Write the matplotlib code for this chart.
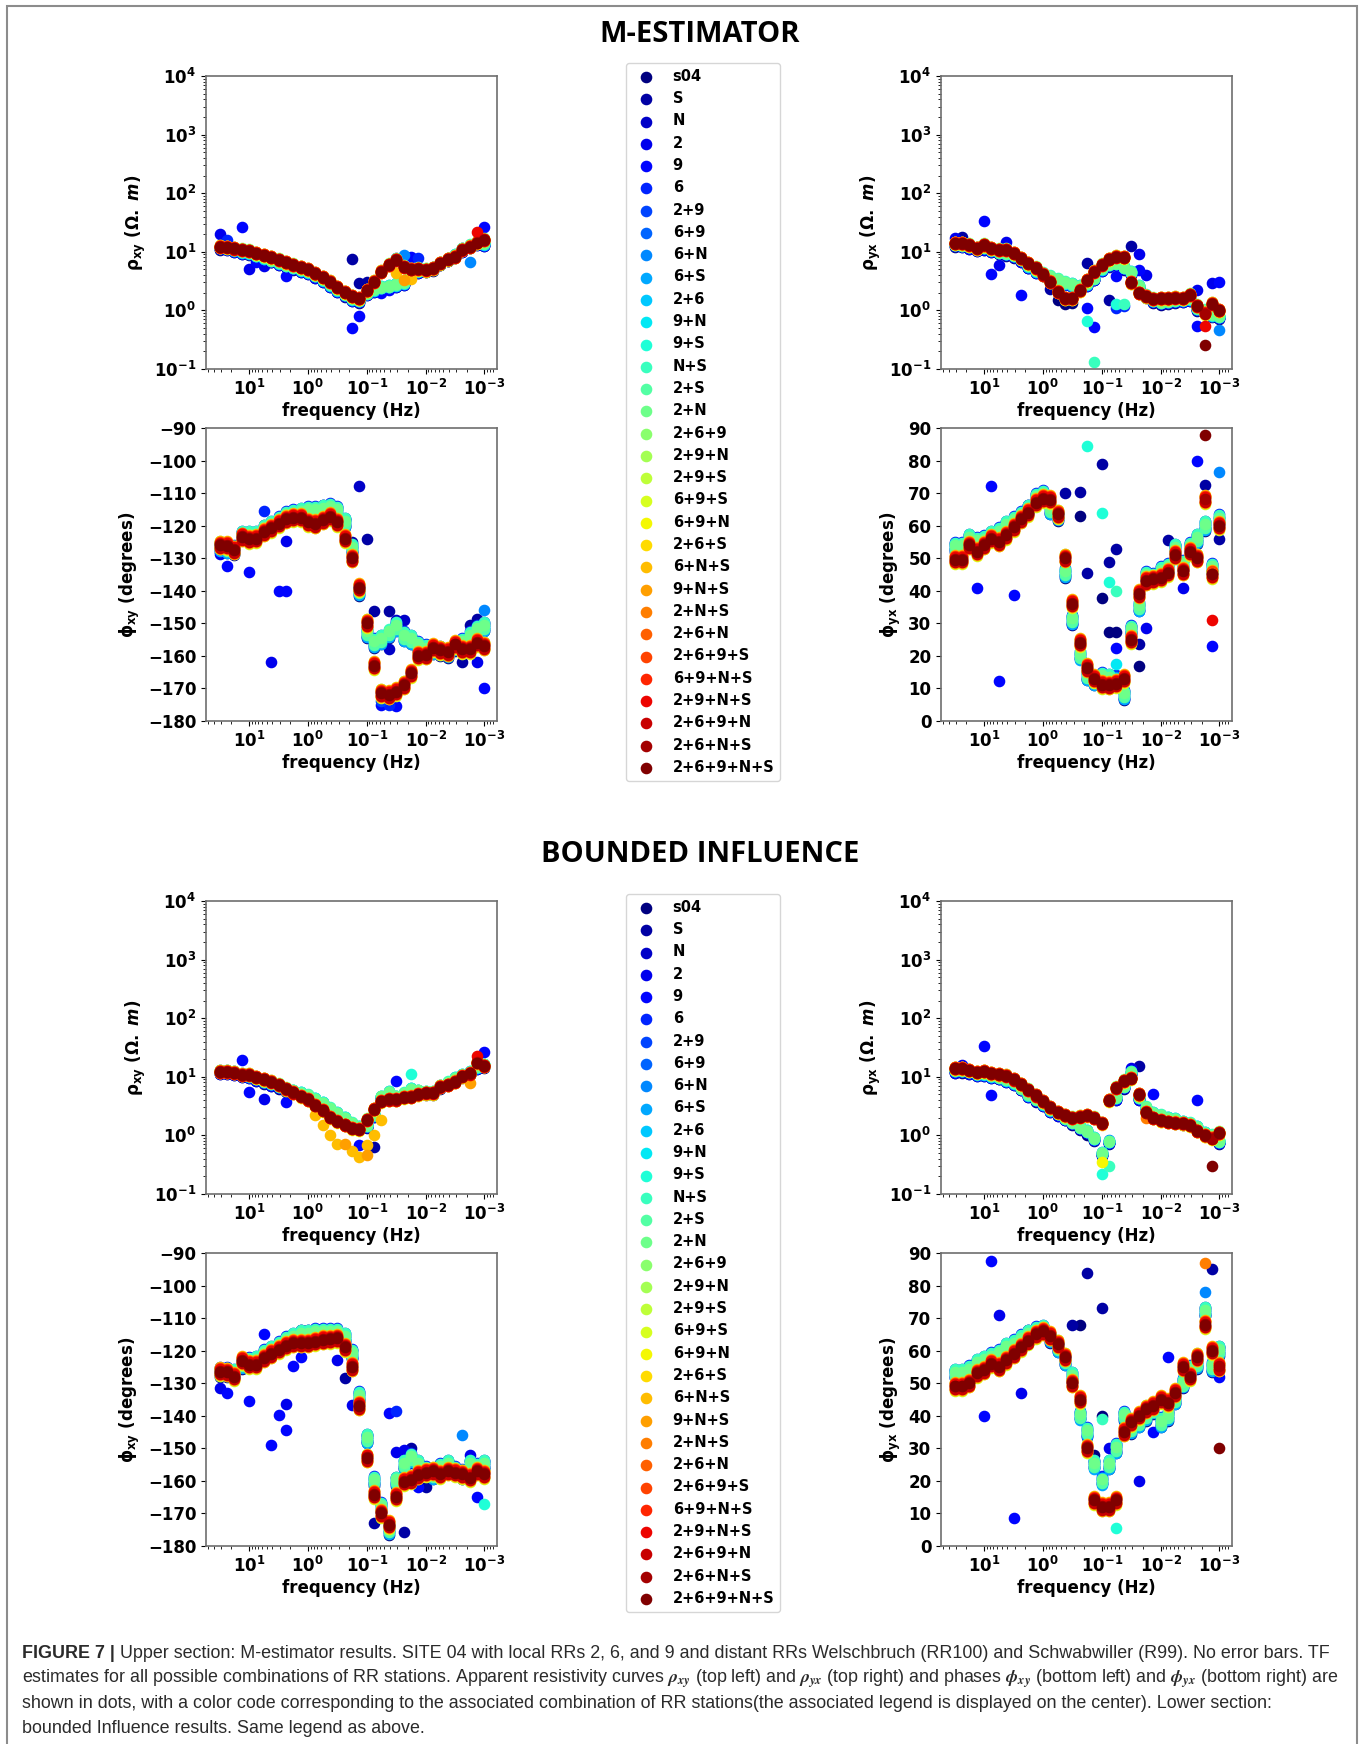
import matplotlib
matplotlib.use("Agg")
import matplotlib.pyplot as plt
from matplotlib.patches import Rectangle
import numpy as np

W, H = 1363, 1744

# frequencies (Hz), 8 per decade from ~32 Hz down to 1 mHz
freqs = [31.6, 23.7, 17.8, 13.3, 10.0, 7.50, 5.62, 4.22, 3.16, 2.37, 1.78, 1.33, 1.00,
         0.750, 0.562, 0.422, 0.316, 0.237, 0.178, 0.133, 0.100, 0.075, 0.0562, 0.0422,
         0.0316, 0.0237, 0.0178, 0.0133, 0.0100, 0.0075, 0.00562, 0.00422, 0.00316,
         0.00237, 0.00178, 0.00133, 0.00100]

labels = ['s04', 'S', 'N', '2', '9', '6', '2+9', '6+9', '6+N', '6+S', '2+6', '9+N', '9+S',
          'N+S', '2+S', '2+N', '2+6+9', '2+9+N', '2+9+S', '6+9+S', '6+9+N', '2+6+S', '6+N+S',
          '9+N+S', '2+N+S', '2+6+N', '2+6+9+S', '6+9+N+S', '2+9+N+S', '2+6+9+N', '2+6+N+S',
          '2+6+9+N+S']

# small level differences between the RR combinations
rho_gain = [0.90, 0.93, 0.95, 0.91, 0.97, 0.94, 1.00, 0.96, 1.03, 0.98, 0.95, 1.02, 0.99, 1.04, 0.97, 1.01,
            1.06, 0.96, 1.04, 0.98, 0.94, 1.03, 0.95, 1.05, 0.97, 1.02, 0.99, 1.04, 0.96, 1.02, 0.98, 1.00]
phi_shift = [-1.5, 1.2, -0.8, 0.6, -1.1, 1.5, 0.0, -0.6, 1.0, -1.3, 0.8, 0.3, -0.3, 1.3, -0.7, 0.5,
             1.2, -0.9, 0.7, -1.3, 1.0, -0.5, 1.4, -1.1, 0.4, -0.7, 1.1, -0.3, 0.8, -0.8, 0.3, 0.0]

# ---------------- M-estimator ----------------
m_rxy_warm = [12.3, 12.0, 11.4, 10.8, 10.4, 9.5, 8.8, 8.1, 7.3, 6.6, 6.0, 5.5, 5.0, 4.3, 3.7, 3.1, 2.5,
              2.05, 1.75, 1.6, 2.2, 3.1, 4.6, 6.0, 7.3, 5.6, 5.0, 5.1, 4.9, 5.2, 6.4, 7.5, 8.3, 10.8,
              12.3, 14.4, 16.0]
m_rxy_cool = [12.0, 11.8, 11.0, 10.2, 9.8, 8.8, 8.0, 7.3, 6.6, 6.0, 5.5, 5.0, 4.6, 4.0, 3.4, 2.8, 2.3,
              1.9, 1.6, 1.5, 2.0, 2.3, 2.5, 2.6, 2.8, 3.0, 4.2, 4.8, 5.0, 5.3, 6.5, 7.6, 8.8, 11.0,
              13.0, 14.5, 14.0]
m_rxy_out = [(3, 0, 20), (5, 1, 16), (4, 3, 27), (3, 4, 5.1), (4, 5, 6.8), (3, 6, 5.8), (4, 9, 3.9),
             (1, 18, 7.5), (4, 18, 0.5), (4, 19, 0.8), (1, 19, 2.9), (1, 20, 3.1), (4, 22, 2.0),
             (4, 23, 2.2), (4, 24, 7.8), (8, 25, 8.9), (4, 26, 8.3), (5, 27, 7.8), (1, 33, 11.6),
             (8, 34, 6.7), (4, 36, 26), (28, 35, 22), (22, 24, 4.4), (23, 25, 3.3), (22, 26, 3.4)]

m_ryx_warm = [14.1, 14.0, 13.1, 11.5, 13.1, 11.5, 10.8, 10.8, 9.5, 7.8, 6.4, 5.3, 4.1, 3.1, 2.1, 1.6,
              1.6, 2.2, 3.3, 4.6, 6.0, 7.5, 8.3, 8.1, 3.0, 2.0, 1.75, 1.57, 1.6, 1.6, 1.65, 1.6, 1.85,
              1.2, 0.9, 1.3, 1.0]
m_ryx_cool = [13.5, 13.2, 12.5, 11.5, 12.0, 11.0, 10.0, 9.5, 8.8, 7.5, 5.8, 4.8, 4.3, 3.8, 3.4, 3.0,
              2.8, 2.6, 2.9, 3.6, 5.2, 6.2, 6.5, 5.5, 4.5, 2.6, 1.8, 1.5, 1.4, 1.45, 1.5, 1.55, 1.6,
              1.1, 1.0, 0.85, 0.8]
m_ryx_out = [(3, 0, 17), (1, 1, 18), (4, 4, 33), (4, 5, 4.2), (3, 6, 5.9), (4, 9, 1.8), (3, 7, 14.5),
             (0, 14, 1.5), (0, 15, 1.3), (0, 16, 1.35), (1, 13, 2.3), (1, 18, 6.4), (4, 18, 1.1),
             (12, 18, 0.65), (4, 19, 0.52), (13, 19, 0.13), (1, 24, 12.6), (3, 25, 9.2), (4, 25, 4.9),
             (3, 26, 4.0), (4, 22, 3.8), (1, 21, 1.5), (5, 22, 1.1), (5, 23, 1.2), (12, 22, 1.3),
             (13, 23, 1.3), (3, 33, 2.2), (3, 35, 2.9), (4, 36, 3.1), (4, 33, 0.54), (31, 34, 0.26),
             (28, 34, 0.55), (8, 36, 0.47)]

m_pxy_warm = [-126, -126.2, -127.5, -123.5, -124.2, -124, -122, -120.8, -119.4, -118, -117.6, -117.5,
              -119, -119.5, -118.3, -117.2, -119, -124, -130, -139, -150, -163, -171.5, -172, -171,
              -169, -165.4, -160, -159.8, -157.5, -158.3, -158.8, -156.5, -158, -158, -156, -157]
m_pxy_cool = [-126.5, -127, -127.5, -123, -123, -123, -121, -120, -118.5, -117, -116.5, -116, -115.5,
              -115.5, -115, -114.5, -115.5, -119, -127, -140, -153, -156, -155, -153, -151, -154,
              -155, -157, -158, -158, -158.5, -159, -157, -156, -154, -152, -151]
m_pxy_out = [(3, 0, -128.7), (4, 1, -132.3), (4, 4, -134.3), (5, 6, -115.5), (4, 8, -140.2),
             (4, 9, -140.2), (3, 7, -161.9), (3, 9, -124.7), (2, 19, -107.8), (1, 18, -125),
             (1, 20, -124), (1, 21, -146.3), (1, 23, -146.3), (2, 24, -149), (2, 25, -149),
             (2, 23, -158), (3, 26, -165.4), (1, 33, -161.9), (1, 34, -150.5), (1, 35, -148.6),
             (4, 36, -170), (8, 36, -146), (3, 35, -162), (4, 22, -175), (5, 23, -175),
             (4, 24, -175.5), (6, 22, -174)]

m_pyx_warm = [49.5, 49.5, 54, 52, 54, 56, 55, 57, 59.5, 62, 64, 67, 68.3, 68, 63.5, 50, 36, 24, 16.3,
              13, 11.2, 11, 11.5, 13, 25, 39, 43, 43.5, 44, 45.5, 51, 46, 52, 50, 68, 45, 60]
m_pyx_cool = [53.5, 53.5, 56, 55, 55.5, 57, 58, 60, 61.5, 63, 65, 68.5, 69.5, 65, 63, 45.5, 31, 20,
              14, 12.5, 13.5, 13, 12.5, 8, 28, 35, 44.5, 44, 46, 47, 53, 48, 53.5, 56, 60, 47, 62]
m_pyx_out = [(4, 5, 72.2), (4, 3, 40.8), (4, 6, 12.2), (4, 8, 38.8), (12, 18, 84.6), (1, 20, 79),
             (1, 15, 70.1), (1, 17, 70.3), (12, 20, 64), (0, 17, 63), (1, 18, 45.4), (0, 20, 37.7),
             (1, 21, 48.7), (1, 22, 52.8), (12, 21, 42.6), (13, 22, 40), (0, 21, 27.3), (0, 22, 27.3),
             (4, 22, 22.4), (11, 22, 17.6), (3, 26, 28.5), (1, 25, 23.7), (0, 25, 17), (1, 29, 55.5),
             (3, 31, 40.8), (4, 33, 80), (4, 35, 23), (28, 35, 30.9), (31, 34, 87.7), (8, 36, 76.5),
             (1, 34, 72.6), (1, 36, 55.8)]

# ---------------- Bounded influence ----------------
b_rxy_warm = [12.3, 12.3, 11.8, 10.9, 10.9, 9.9, 9.1, 8.3, 7.3, 6.2, 5.4, 4.7, 4.1, 3.3, 2.7, 2.05,
              1.73, 1.52, 1.33, 1.28, 1.85, 2.8, 3.8, 4.1, 4.1, 4.5, 4.6, 5.0, 5.3, 5.3, 6.8, 7.3, 8.3,
              10.3, 11.4, 17.5, 15.4]
b_rxy_cool = [12.5, 12.5, 12.0, 11.0, 10.5, 9.5, 8.5, 7.8, 7.0, 6.2, 5.8, 5.3, 4.8, 4.2, 3.6, 2.9,
              2.4, 2.0, 1.6, 1.4, 1.5, 2.3, 4.6, 5.5, 4.6, 5.2, 6.2, 5.8, 5.5, 5.5, 7.0, 8.0, 9.5,
              10.8, 12.0, 15.0, 16.0]
b_rxy_out = [(22, 13, 2.25), (22, 14, 1.52), (22, 15, 1.02), (22, 16, 0.71), (23, 17, 0.71),
             (22, 18, 0.54), (22, 19, 0.43), (23, 20, 0.47), (22, 20, 0.69), (22, 21, 1.0),
             (22, 22, 1.8), (4, 19, 0.69), (1, 21, 0.63), (4, 3, 19), (4, 4, 5.6), (3, 6, 4.2),
             (4, 9, 3.65), (4, 24, 8.6), (12, 26, 11.1), (4, 36, 26.3), (23, 34, 7.8), (28, 35, 23)]

b_ryx_warm = [14, 14, 13, 12, 12.5, 11.5, 11, 10.5, 9, 7.5, 6, 4.8, 3.8, 3.0, 2.5, 2.2, 2.0, 2.1, 2.2,
              2.0, 1.6, 4.0, 6.5, 8.5, 9.5, 5.0, 2.5, 2.0, 1.8, 1.7, 1.65, 1.6, 1.5, 1.2, 1.0, 0.9, 1.1]
b_ryx_cool = [13, 13, 12.5, 11.5, 11.5, 10.5, 10, 9, 8, 6.5, 5, 4.2, 3.5, 2.8, 2.4, 2.0, 1.7, 1.4,
              1.2, 0.9, 0.5, 0.8, 4.5, 7, 12, 4.5, 3, 2.4, 2.2, 2.0, 1.9, 1.7, 1.6, 1.4, 1.1, 1.0, 0.8]
b_ryx_out = [(4, 4, 34), (4, 5, 4.8), (3, 1, 16), (12, 20, 0.22), (13, 21, 0.3), (20, 20, 0.35),
             (1, 25, 15), (4, 27, 5), (24, 26, 2), (31, 35, 0.3), (4, 33, 4), (0, 18, 1.0),
             (1, 19, 0.9), (3, 24, 14)]

b_pxy_warm = [-126.4, -126.6, -128, -123.1, -124.3, -124.3, -122.3, -121, -119.7, -118.5, -117.7,
              -117.7, -117.7, -117.2, -116.7, -116.5, -116.2, -119, -125, -137, -153, -164.3, -170,
              -173.5, -164.8, -160.2, -159.7, -158.2, -157.5, -157, -158, -157, -157.5, -158, -159,
              -157, -158]
b_pxy_cool = [-126.5, -126.5, -127, -124, -123.5, -123, -121, -120, -118.5, -117, -116, -115, -115,
              -114.5, -114.5, -114.5, -114.5, -116, -121, -134, -147, -160, -168, -175, -160, -155,
              -153, -155, -157, -158, -156, -155, -157, -158, -155, -156, -155]
b_pxy_out = [(3, 0, -131.5), (4, 1, -133), (4, 4, -135.6), (4, 6, -114.9), (4, 7, -148.9),
             (4, 8, -139.7), (4, 9, -144.3), (3, 9, -136.3), (4, 10, -124.7), (4, 11, -122),
             (3, 16, -122.8), (1, 17, -128.4), (3, 18, -136.6), (4, 23, -139.2), (5, 24, -138.4),
             (1, 21, -173), (1, 25, -175.6), (3, 24, -151), (3, 25, -150.5), (4, 27, -161.8),
             (8, 33, -146), (4, 35, -165), (12, 36, -167), (3, 34, -152), (1, 26, -150),
             (1, 28, -162)]

b_pyx_warm = [49, 49, 50, 53, 54, 56, 55, 57, 59, 61, 63, 65, 66, 64.5, 62, 58, 50, 45, 30, 14, 12, 12,
              14, 35, 38, 40, 42, 43, 45, 44, 47, 55, 52, 58, 68, 60, 55]
b_pyx_cool = [53, 53, 54, 56, 57, 58, 59, 61, 62, 63.5, 65, 66, 66.5, 64, 61, 57, 52, 40, 35, 25, 20,
              25, 30, 40, 36, 38, 40, 42, 38, 40, 45, 50, 54, 56, 72, 55, 60]
b_pyx_out = [(4, 4, 40), (4, 5, 87.5), (3, 6, 71), (4, 8, 8.5), (3, 9, 47), (1, 18, 84), (1, 20, 73),
             (0, 17, 68), (1, 16, 68), (0, 19, 28), (0, 20, 40), (3, 21, 30), (13, 20, 39),
             (12, 22, 5.5), (3, 25, 20), (4, 27, 35), (4, 29, 58), (8, 34, 78), (4, 36, 52),
             (31, 36, 30), (1, 35, 85), (24, 34, 87)]

plt.rcParams['font.family'] = 'DejaVu Sans'
plt.rcParams['font.weight'] = 'bold'
plt.rcParams['axes.labelweight'] = 'bold'
plt.rcParams['mathtext.fontset'] = 'custom'
plt.rcParams['mathtext.rm'] = 'DejaVu Sans:bold'
plt.rcParams['mathtext.bf'] = 'DejaVu Sans:bold'
plt.rcParams['mathtext.sf'] = 'DejaVu Sans:bold'
plt.rcParams['mathtext.it'] = 'DejaVu Sans:italic:bold'
plt.rcParams['mathtext.default'] = 'rm'

colors = plt.cm.jet(np.linspace(0, 1, len(labels)))

fig = plt.figure(figsize=(W / 100, H / 100), dpi=100)


def panel(rect, warm, cool, extra, kind):
    ax = fig.add_axes(rect)
    for k in range(len(labels)):
        base = cool if k < 16 else warm
        if kind == 'rho':
            vals = [v * rho_gain[k] for v in base]
        else:
            vals = [v + phi_shift[k] for v in base]
        for s, i, v in extra:
            if s == k:
                vals[i] = v
        ax.scatter(freqs, vals, s=54, color=colors[k], label=labels[k])
    ax.set_xscale('log')
    ax.set_xlim(54, 6.1e-4)
    ax.set_xticks([1e1, 1e0, 1e-1, 1e-2, 1e-3])
    if kind == 'rho':
        ax.set_yscale('log')
        ax.set_ylim(0.1, 1e4)
        ax.set_yticks([1e-1, 1e0, 1e1, 1e2, 1e3, 1e4])
    ax.set_xlabel('frequency (Hz)', fontsize=12, fontweight='bold', labelpad=2)
    ax.tick_params(labelsize=12)
    for sp in ax.spines.values():
        sp.set_color('#6e6e6e')
        sp.set_linewidth(1.2)
    return ax


lx, rx, aw, ah = 206 / W, 941 / W, 291 / W, 293 / H
sections = [
    (76, 428, m_rxy_warm, m_rxy_cool, m_rxy_out, m_ryx_warm, m_ryx_cool, m_ryx_out,
     m_pxy_warm, m_pxy_cool, m_pxy_out, m_pyx_warm, m_pyx_cool, m_pyx_out),
    (901, 1253, b_rxy_warm, b_rxy_cool, b_rxy_out, b_ryx_warm, b_ryx_cool, b_ryx_out,
     b_pxy_warm, b_pxy_cool, b_pxy_out, b_pyx_warm, b_pyx_cool, b_pyx_out),
]
first_ax = None
for sec in sections:
    top1, top2 = sec[0], sec[1]
    a = panel([lx, 1 - (top1 + 293) / H, aw, ah], sec[2], sec[3], sec[4], 'rho')
    a.set_ylabel(r'$\rho_{xy}\ (\Omega.\ \mathit{m})$', fontsize=12)
    if first_ax is None:
        first_ax = a
    b = panel([rx, 1 - (top1 + 293) / H, aw, ah], sec[5], sec[6], sec[7], 'rho')
    b.set_ylabel(r'$\rho_{yx}\ (\Omega.\ \mathit{m})$', fontsize=12)
    c = panel([lx, 1 - (top2 + 293) / H, aw, ah], sec[8], sec[9], sec[10], 'phi')
    c.set_ylim(-180, -90)
    c.set_yticks(np.arange(-180, -89, 10))
    c.set_ylabel(r'$\phi_{xy}$ (degrees)', fontsize=12)
    d = panel([rx, 1 - (top2 + 293) / H, aw, ah], sec[11], sec[12], sec[13], 'phi')
    d.set_ylim(0, 90)
    d.set_yticks(np.arange(0, 91, 10))
    d.set_ylabel(r'$\phi_{yx}$ (degrees)', fontsize=12)

handles, lbls = first_ax.get_legend_handles_labels()
for ytop in (63, 894):
    fig.legend(handles, lbls, loc='upper left', bbox_to_anchor=(626 / W, 1 - ytop / H),
               borderaxespad=0, prop={'weight': 'bold', 'size': 10.5}, labelspacing=0.5,
               scatterpoints=1, handletextpad=0.8, fancybox=True)

fig.text(700 / W, 1 - 35 / H, 'M-ESTIMATOR', ha='center', va='center', fontsize=21,
         fontweight='bold', family='Open Sans')
fig.text(700 / W, 1 - 855 / H, 'BOUNDED INFLUENCE', ha='center', va='center', fontsize=21,
         fontweight='bold', family='Open Sans')

fig.add_artist(Rectangle((7 / W, -0.01), 1350 / W, 1.01 - 6 / H, transform=fig.transFigure,
                         fill=False, ec='#8c8c8c', lw=1.5))

# caption
cap_lines = [
    'Upper section: M-estimator results. SITE 04 with local RRs 2, 6, and 9 and distant RRs '
    'Welschbruch (RR100) and Schwabwiller (R99). No error bars. TF',
    r'estimates for all possible combinations of RR stations. Apparent resistivity curves '
    r'$\mathit{\rho_{xy}}$ (top left) and $\mathit{\rho_{yx}}$ (top right) and phases '
    r'$\mathit{\phi_{xy}}$ (bottom left) and $\mathit{\phi_{yx}}$ (bottom right) are',
    'shown in dots, with a color code corresponding to the associated combination of RR '
    'stations(the associated legend is displayed on the center). Lower section:',
    'bounded Influence results. Same legend as above.',
]
cap_base = [1658, 1683, 1708, 1733]
cap_size = 13.2
cap_kw = dict(family='Liberation Sans', fontweight='normal', color='#2b2b2b',
              va='baseline', math_fontfamily='stix')
t0 = fig.text(22 / W, 1 - cap_base[0] / H, 'FIGURE 7 |', fontsize=cap_size,
              family='Liberation Sans', fontweight='bold', color='#2b2b2b', va='baseline')
texts = [fig.text(22 / W, 1 - yb / H, line, fontsize=cap_size, **cap_kw)
         for line, yb in zip(cap_lines, cap_base)]
r = fig.canvas.get_renderer()
gap = 5
w1 = t0.get_window_extent(r).width + gap + texts[0].get_window_extent(r).width
w2 = texts[1].get_window_extent(r).width
scale = (1340 - 22) / max(w1, w2)
t0.set_fontsize(cap_size * scale)
for t in texts:
    t.set_fontsize(cap_size * scale)
x_after = (t0.get_window_extent(r).x1 + gap * scale) / W
texts[0].set_x(x_after)

fig.savefig('out.png', dpi=100)
